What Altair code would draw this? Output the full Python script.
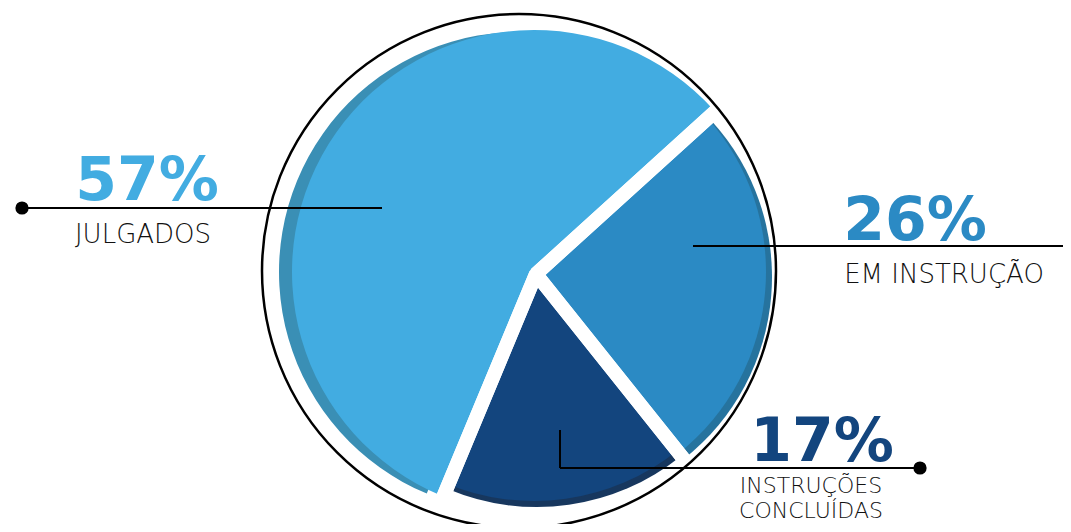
import math
import altair as alt
import pandas as pd

# ---------------- data ----------------
categories = ["EM INSTRUÇÃO", "INSTRUÇÕES CONCLUÍDAS", "JULGADOS"]
values = [26, 17, 57]
pct_labels = [f"{v}%" for v in values]
label_lines = [["EM INSTRUÇÃO"], ["INSTRUÇÕES", "CONCLUÍDAS"], ["JULGADOS"]]

# ---------------- styles ----------------
colors = ["#2B8AC4", "#13457E", "#42ACE1"]
shade_colors = ["#26739E", "#17375E", "#3A8FB5"]
ink = "#111111"

# ---------------- layout (reference pixel coordinates) ----------------
W, H = 1055, 516
X0, Y0 = 8, 8
start_deg = 47.8
gap_center = (536, 274)
slice_center = [(534, 272), (534, 272), (534, 272)]
slice_radius = [232, 229, 242]
shade_center = [(540, 277), (537, 278), (519, 272)]
shade_radius = [232, 229, 240]
ring_center = (519, 271)
ring_radius = 257

pct_pos = [(915, 240), (822, 461), (147, 200)]
label_sizes = [26, 22, 26]
label_pos = [[(944, 283)], [(811, 493), (811, 518)], [(143, 243)]]
leaders = [
    [(693, 246, 1071, 246)],
    [(560, 430, 560, 468), (560, 468, 920, 468)],
    [(22, 208, 382, 208)],
]
dots = [(1071, 246), (920, 468), (22, 208)]

# ---------------- tables ----------------
slices = pd.DataFrame({
    "cat": categories,
    "value": values,
    "order": list(range(len(values))),
    "color": colors,
    "shade": shade_colors,
    "cx": [c[0] for c in slice_center],
    "cy": [c[1] for c in slice_center],
    "r": slice_radius,
    "sx": [c[0] for c in shade_center],
    "sy": [c[1] for c in shade_center],
    "sr": shade_radius,
    "gx": [gap_center[0]] * 3,
    "gy": [gap_center[1]] * 3,
})

xs = alt.Scale(domain=[X0, X0 + W], range=[0, W])
ys = alt.Scale(domain=[Y0, Y0 + H], range=[0, H])
a0 = math.radians(start_deg)
ts = alt.Scale(domain=[0, sum(values)], range=[a0, a0 + 2 * math.pi])

base = alt.Chart(slices).transform_window(
    cum="sum(value)", sort=[alt.SortField("order")], frame=[None, 0]
).transform_calculate(start="datum.cum - datum.value")

theta = alt.Theta("start:Q", scale=ts)
theta2 = alt.Theta2("cum:Q")

shade_layer = base.mark_arc().encode(
    x=alt.X("sx:Q", scale=xs, axis=None),
    y=alt.Y("sy:Q", scale=ys, axis=None),
    theta=theta, theta2=theta2,
    radius=alt.Radius("sr:Q", scale=None),
    fill=alt.Fill("shade:N", scale=None),
)

main_layer = base.mark_arc().encode(
    x=alt.X("cx:Q", scale=xs, axis=None),
    y=alt.Y("cy:Q", scale=ys, axis=None),
    theta=theta, theta2=theta2,
    radius=alt.Radius("r:Q", scale=None),
    fill=alt.Fill("color:N", scale=None),
)

gap_layer = base.mark_arc(
    fillOpacity=0, stroke="white", strokeWidth=14, strokeJoin="bevel", radius=300
).encode(
    x=alt.X("gx:Q", scale=xs, axis=None),
    y=alt.Y("gy:Q", scale=ys, axis=None),
    theta=theta, theta2=theta2,
)

ring_df = pd.DataFrame({"x": [ring_center[0]], "y": [ring_center[1]]})
ring_layer = alt.Chart(ring_df).mark_arc(
    theta=0, theta2=2 * math.pi, radius=ring_radius,
    fillOpacity=0, stroke="black", strokeWidth=2.5,
).encode(
    x=alt.X("x:Q", scale=xs, axis=None),
    y=alt.Y("y:Q", scale=ys, axis=None),
)

rule_rows = []
for segs in leaders:
    for (x1, y1, x2, y2) in segs:
        rule_rows.append({"x": x1, "y": y1, "x2": x2, "y2": y2})
rule_layer = alt.Chart(pd.DataFrame(rule_rows)).mark_rule(
    color="black", strokeWidth=2
).encode(
    x=alt.X("x:Q", scale=xs, axis=None),
    y=alt.Y("y:Q", scale=ys, axis=None),
    x2="x2:Q", y2="y2:Q",
)

dot_layer = alt.Chart(pd.DataFrame({"x": [d[0] for d in dots], "y": [d[1] for d in dots]})).mark_circle(
    color="black", opacity=1, size=175
).encode(
    x=alt.X("x:Q", scale=xs, axis=None),
    y=alt.Y("y:Q", scale=ys, axis=None),
)

pct_df = pd.DataFrame({
    "text": pct_labels,
    "x": [p[0] for p in pct_pos],
    "y": [p[1] for p in pct_pos],
    "color": colors,
})
pct_layer = alt.Chart(pct_df).mark_text(
    font="DejaVu Sans", fontWeight="bold", fontSize=60, align="center", baseline="alphabetic"
).encode(
    x=alt.X("x:Q", scale=xs, axis=None),
    y=alt.Y("y:Q", scale=ys, axis=None),
    text="text:N",
    color=alt.Color("color:N", scale=None),
)

lab_rows = []
for lines, poss, sz in zip(label_lines, label_pos, label_sizes):
    for t, (x, y) in zip(lines, poss):
        lab_rows.append({"text": t, "x": x, "y": y, "size": sz})
lab_layer = alt.Chart(pd.DataFrame(lab_rows)).mark_text(
    font="DejaVu Sans", fontWeight=300, align="center", baseline="alphabetic", color=ink
).encode(
    x=alt.X("x:Q", scale=xs, axis=None),
    y=alt.Y("y:Q", scale=ys, axis=None),
    text="text:N",
    size=alt.Size("size:Q", scale=None),
)

chart = alt.layer(
    shade_layer, main_layer, gap_layer, ring_layer, rule_layer, dot_layer, pct_layer, lab_layer
).properties(
    width=W, height=H, padding=0, autosize=alt.AutoSizeParams(type="none")
).configure_view(strokeWidth=0)

chart.save("out.html", embed_options={"renderer": "svg", "actions": False})
